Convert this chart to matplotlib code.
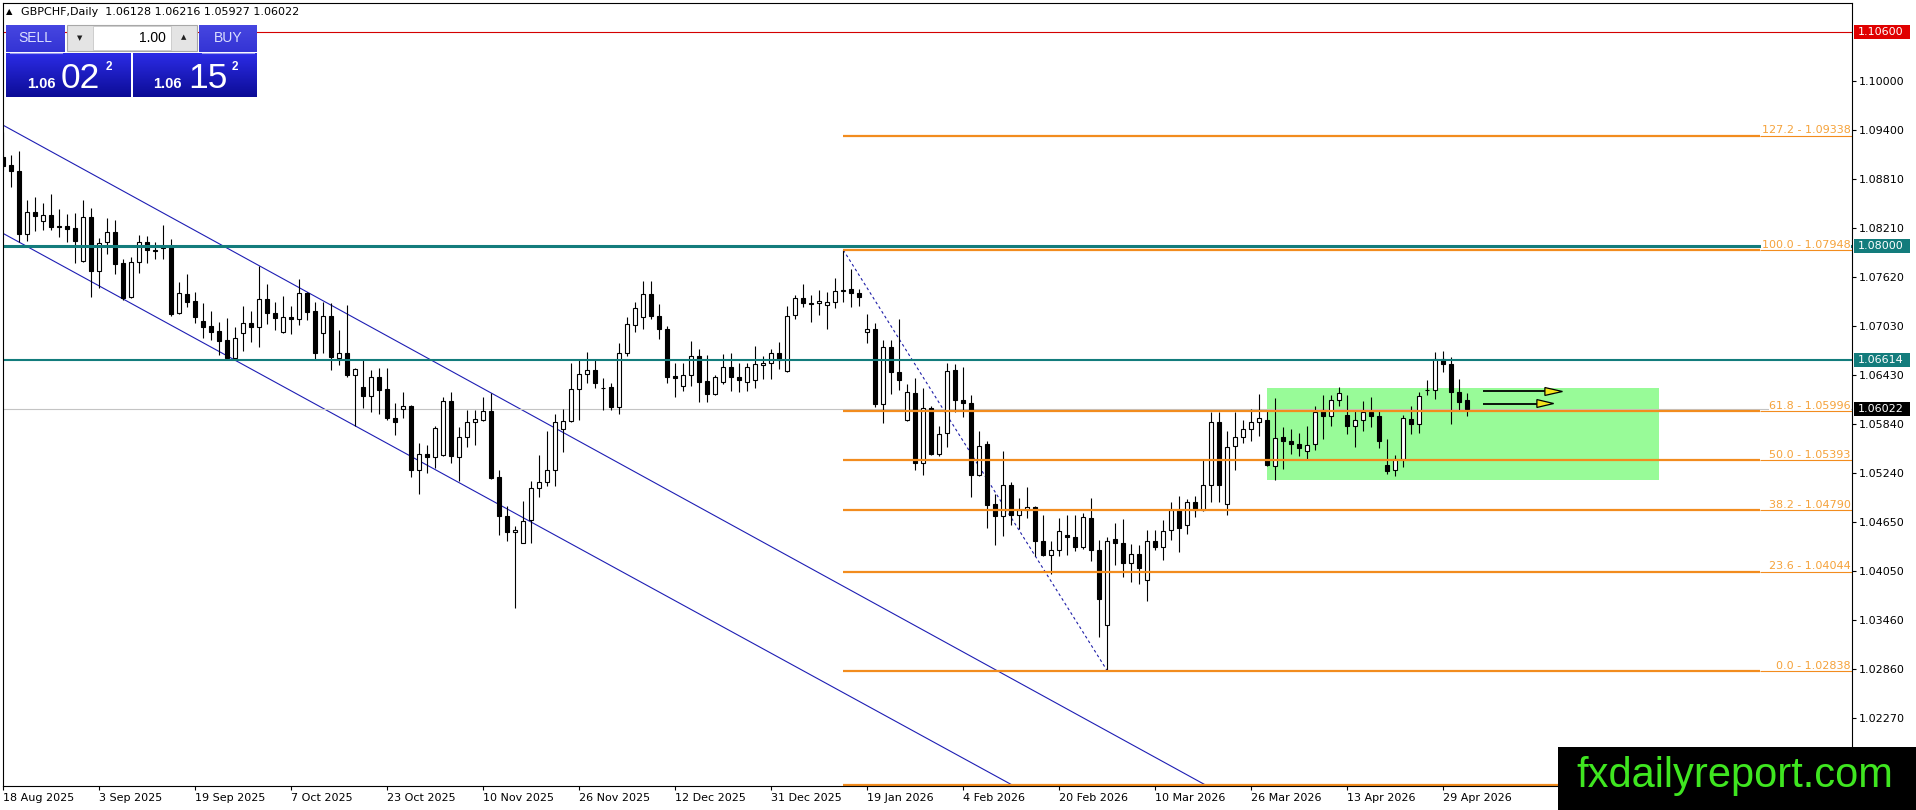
import matplotlib
matplotlib.use("Agg")
import matplotlib.pyplot as plt
from matplotlib.patches import Rectangle, Polygon
import numpy as np

plt.rcParams['font.family'] = ['DejaVu Sans']

W, H = 1916, 810

# ---------------- data (GBPCHF daily) ----------------
OPEN = [1.09074, 1.08981, 1.08908, 1.08143, 1.08406, 1.08297, 1.08370, 1.08240, 1.08240, 1.08216,
        1.07816, 1.08354, 1.07698, 1.08042, 1.08164, 1.07787, 1.07375, 1.07808, 1.08050, 1.07949,
        1.07998, 1.08002, 1.07181, 1.07415, 1.07326, 1.07088, 1.07027, 1.06966, 1.06857, 1.06635,
        1.06946, 1.07059, 1.07019, 1.07355, 1.07181, 1.06950, 1.07132, 1.07108, 1.07431, 1.07209,
        1.06946, 1.07148, 1.06635, 1.06703, 1.06432, 1.06283, 1.06178, 1.06412, 1.06258, 1.05906,
        1.06016, 1.06048, 1.05271, 1.05470, 1.05433, 1.05453, 1.06117, 1.05433, 1.05676, 1.05858,
        1.05878, 1.05995, 1.05190, 1.04721, 1.04519, 1.04390, 1.04665, 1.05057, 1.05130, 1.05279,
        1.05773, 1.05866, 1.06258, 1.06440, 1.06493, 1.06271, 1.06279, 1.06036, 1.06695, 1.07039,
        1.07132, 1.07415, 1.07148, 1.06990, 1.06420, 1.06291, 1.06432, 1.06663, 1.06359, 1.06198,
        1.06343, 1.06525, 1.06404, 1.06343, 1.06372, 1.06550, 1.06574, 1.06695, 1.06473, 1.07160,
        1.07363, 1.07302, 1.07302, 1.07282, 1.07314, 1.07456, 1.07472, 1.07431, 1.06954, 1.06987,
        1.06080, 1.06768, 1.06465, 1.05886, 1.06210, 1.05360, 1.06028, 1.05470, 1.05724, 1.06485,
        1.06121, 1.06089, 1.05211, 1.05591, 1.04863, 1.04713, 1.05089, 1.04725, 1.04786, 1.04827,
        1.04410, 1.04248, 1.04309, 1.04483, 1.04462, 1.04337, 1.04693, 1.04309, 1.03391, 1.04438,
        1.04390, 1.04147, 1.04256, 1.03937, 1.04410, 1.04341, 1.04551, 1.04786, 1.04604, 1.04887,
        1.04794, 1.05098, 1.05854, 1.04863, 1.05563, 1.05676, 1.05773, 1.05858, 1.05878, 1.05328,
        1.05676, 1.05623, 1.05591, 1.05502, 1.05595, 1.06008, 1.05935, 1.06121, 1.05947, 1.05805,
        1.05886, 1.05987, 1.05935, 1.05340, 1.05271, 1.05409, 1.05898, 1.05834, 1.06246, 1.06250,
        1.06622, 1.06562, 1.06222, 1.06128]
HIGH = [1.09385, 1.09102, 1.09151, 1.08556, 1.08588, 1.08516, 1.08625, 1.08443, 1.08382, 1.08394,
        1.08556, 1.08455, 1.08099, 1.08334, 1.08313, 1.07836, 1.07868, 1.08131, 1.08119, 1.08050,
        1.08253, 1.08079, 1.07557, 1.07658, 1.07444, 1.07310, 1.07209, 1.07071, 1.07120, 1.07011,
        1.07270, 1.07213, 1.07755, 1.07533, 1.07314, 1.07391, 1.07262, 1.07593, 1.07444, 1.07322,
        1.07314, 1.07302, 1.06978, 1.07282, 1.06510, 1.06614, 1.06493, 1.06521, 1.06521, 1.06089,
        1.06222, 1.06068, 1.05603, 1.05583, 1.05817, 1.06169, 1.06222, 1.05793, 1.06007, 1.06007,
        1.06161, 1.06210, 1.05279, 1.04835, 1.04592, 1.04895, 1.05146, 1.05461, 1.05745, 1.05959,
        1.06020, 1.06574, 1.06626, 1.06715, 1.06626, 1.06392, 1.06339, 1.06817, 1.07132, 1.07322,
        1.07577, 1.07577, 1.07294, 1.07027, 1.06574, 1.06574, 1.06845, 1.06748, 1.06675, 1.06432,
        1.06687, 1.06695, 1.06574, 1.06574, 1.06784, 1.06655, 1.06748, 1.06837, 1.07274, 1.07403,
        1.07537, 1.07403, 1.07464, 1.07444, 1.07605, 1.07948, 1.07715, 1.07472, 1.07173, 1.07059,
        1.06857, 1.06857, 1.07112, 1.06319, 1.06392, 1.06271, 1.06048, 1.05805, 1.06574, 1.06562,
        1.06533, 1.06190, 1.05753, 1.05623, 1.04984, 1.05510, 1.05130, 1.04936, 1.05069, 1.04843,
        1.04725, 1.04410, 1.04693, 1.04725, 1.04725, 1.04754, 1.04936, 1.04430, 1.04462, 1.04632,
        1.04685, 1.04377, 1.04369, 1.04551, 1.04543, 1.04665, 1.04887, 1.04956, 1.04924, 1.04956,
        1.05409, 1.05975, 1.05975, 1.05753, 1.05975, 1.05886, 1.06016, 1.06198, 1.06008, 1.06157,
        1.05797, 1.05773, 1.05724, 1.05813, 1.06048, 1.06190, 1.06190, 1.06279, 1.06190, 1.05995,
        1.06109, 1.06161, 1.05995, 1.05656, 1.05462, 1.05947, 1.06056, 1.06218, 1.06372, 1.06707,
        1.06724, 1.06647, 1.06384, 1.06216]
LOW = [1.08920, 1.08718, 1.08050, 1.08063, 1.08184, 1.08192, 1.08192, 1.08111, 1.08050, 1.07787,
       1.07808, 1.07383, 1.07484, 1.07901, 1.07658, 1.07342, 1.07371, 1.07666, 1.07787, 1.07836,
       1.07840, 1.07152, 1.07173, 1.07254, 1.07059, 1.06877, 1.06857, 1.06675, 1.06614, 1.06614,
       1.06716, 1.06829, 1.06776, 1.07047, 1.06978, 1.06946, 1.06930, 1.07039, 1.07092, 1.06614,
       1.06695, 1.06493, 1.06554, 1.06412, 1.05805, 1.06028, 1.05987, 1.05959, 1.05886, 1.05704,
       1.05906, 1.05191, 1.04984, 1.05239, 1.05300, 1.05449, 1.05360, 1.05138, 1.05550, 1.05575,
       1.05870, 1.05166, 1.04483, 1.04410, 1.03601, 1.04385, 1.04390, 1.04948, 1.05077, 1.05077,
       1.05490, 1.05862, 1.05886, 1.06331, 1.06271, 1.06007, 1.06007, 1.05955, 1.06667, 1.06958,
       1.06986, 1.07112, 1.06865, 1.06331, 1.06169, 1.06242, 1.06291, 1.06097, 1.06097, 1.06190,
       1.06323, 1.06242, 1.06218, 1.06242, 1.06271, 1.06380, 1.06380, 1.06501, 1.06465, 1.07112,
       1.07261, 1.07071, 1.07160, 1.06990, 1.07241, 1.07322, 1.07253, 1.07262, 1.06817, 1.06040,
       1.05846, 1.06202, 1.06250, 1.05866, 1.05280, 1.05211, 1.05461, 1.05441, 1.05555, 1.05987,
       1.05919, 1.04944, 1.05199, 1.04572, 1.04361, 1.04471, 1.04612, 1.04564, 1.04693, 1.04228,
       1.04236, 1.04018, 1.04228, 1.04248, 1.04288, 1.04321, 1.04167, 1.03249, 1.02838, 1.04127,
       1.03977, 1.03912, 1.03896, 1.03682, 1.04301, 1.04179, 1.04430, 1.04276, 1.04503, 1.04701,
       1.04774, 1.04887, 1.04887, 1.04725, 1.05280, 1.05603, 1.05631, 1.05692, 1.05320, 1.05158,
       1.05292, 1.05470, 1.05449, 1.05405, 1.05514, 1.05656, 1.05813, 1.06048, 1.05716, 1.05550,
       1.05745, 1.05797, 1.05542, 1.05227, 1.05199, 1.05308, 1.05716, 1.05724, 1.06190, 1.06141,
       1.06465, 1.05834, 1.05999, 1.05927]
CLOSE = [1.08969, 1.08908, 1.08143, 1.08406, 1.08366, 1.08370, 1.08224, 1.08224, 1.08208, 1.08063,
         1.08354, 1.07698, 1.08038, 1.08164, 1.07775, 1.07363, 1.07808, 1.08050, 1.07949, 1.07941,
         1.07978, 1.07173, 1.07423, 1.07322, 1.07140, 1.07019, 1.06958, 1.06849, 1.06635, 1.06877,
         1.07059, 1.07019, 1.07351, 1.07181, 1.07128, 1.07132, 1.07108, 1.07423, 1.07201, 1.06695,
         1.07148, 1.06647, 1.06703, 1.06432, 1.06501, 1.06178, 1.06412, 1.06250, 1.05906, 1.05854,
         1.06048, 1.05271, 1.05470, 1.05433, 1.05785, 1.06117, 1.05441, 1.05676, 1.05858, 1.05894,
         1.05995, 1.05178, 1.04713, 1.04519, 1.04543, 1.04661, 1.05057, 1.05130, 1.05279, 1.05858,
         1.05866, 1.06258, 1.06440, 1.06493, 1.06339, 1.06267, 1.06036, 1.06695, 1.07047, 1.07241,
         1.07415, 1.07152, 1.06986, 1.06412, 1.06392, 1.06432, 1.06667, 1.06351, 1.06198, 1.06404,
         1.06525, 1.06404, 1.06364, 1.06533, 1.06562, 1.06574, 1.06695, 1.06614, 1.07148, 1.07363,
         1.07302, 1.07298, 1.07334, 1.07314, 1.07456, 1.07464, 1.07423, 1.07383, 1.06987, 1.06080,
         1.06768, 1.06461, 1.06372, 1.06218, 1.05360, 1.06028, 1.05470, 1.05712, 1.06473, 1.06121,
         1.06089, 1.05211, 1.05563, 1.04855, 1.04713, 1.05089, 1.04725, 1.04786, 1.04827, 1.04410,
         1.04248, 1.04301, 1.04531, 1.04458, 1.04337, 1.04701, 1.04309, 1.03710, 1.04418, 1.04390,
         1.04147, 1.04256, 1.04086, 1.04410, 1.04337, 1.04539, 1.04786, 1.04572, 1.04887, 1.04794,
         1.05098, 1.05854, 1.05098, 1.05551, 1.05672, 1.05777, 1.05854, 1.05906, 1.05332, 1.05664,
         1.05631, 1.05591, 1.05542, 1.05575, 1.05987, 1.05927, 1.06129, 1.06210, 1.05805, 1.05886,
         1.05987, 1.05927, 1.05623, 1.05267, 1.05409, 1.05906, 1.05834, 1.06177, 1.06250, 1.06622,
         1.06562, 1.06222, 1.06101, 1.06022]

DATE_LABELS = ["18 Aug 2025", "3 Sep 2025", "19 Sep 2025", "7 Oct 2025", "23 Oct 2025",
               "10 Nov 2025", "26 Nov 2025", "12 Dec 2025", "31 Dec 2025", "19 Jan 2026",
               "4 Feb 2026", "20 Feb 2026", "10 Mar 2026", "26 Mar 2026", "13 Apr 2026",
               "29 Apr 2026"]
DATE_BARS = [0, 12, 24, 36, 48, 60, 72, 84, 96, 108, 120, 132, 144, 156, 168, 180]

PRICE_TICKS = [1.10000, 1.09400, 1.08810, 1.08210, 1.07620, 1.07030, 1.06430,
               1.05840, 1.05240, 1.04650, 1.04050, 1.03460, 1.02860, 1.02270]

# fibonacci retracement (anchored high bar 105 -> low bar 138)
FIB_START_BAR = 105
FIB_LEVELS = [127.2, 100.0, 61.8, 50.0, 38.2, 23.6, 0.0, -27.2]
FIB_PRICES = [1.09338, 1.07948, 1.05996, 1.05393, 1.04790, 1.04044, 1.02838, 1.01448]
FIB_LABELLED = [True, True, True, True, True, True, True, False]  # -27.2 label hidden by logo
FIB_LINE = [(105, 1.07948), (138, 1.02838)]

# horizontal levels
RED_LEVEL = 1.10600
TEAL_LEVELS = [1.08000, 1.06614]
BID = 1.06022

# descending channel anchors (bar, price)
CHANNEL_UPPER = [(0, 1.09462), (150, 1.01467)]
CHANNEL_LOWER = [(0, 1.08148), (125, 1.01511)]

# consolidation box (bar from, bar to, price low, price high)
BOX = (158, 207, 1.05150, 1.06275)
# arrows: (start bar, head start bar, tip bar, price)
ARROWS = [(185, 192.7, 194.9, 1.06230), (185, 191.7, 193.8, 1.06084)]

TITLE = "GBPCHF,Daily  1.06128 1.06216 1.05927 1.06022"

# ---------------- figure ----------------
fig = plt.figure(figsize=(W / 100, H / 100), dpi=100)
fig.patch.set_facecolor('white')
L, T, R, B = 3, 3, 1852, 786
ax = fig.add_axes([L / W, 1 - B / H, (R - L) / W, (B - T) / H])
ax.set_facecolor('white')
ax.set_xlim(-0.04, 231.09)
ax.set_ylim(1.01440, 1.10947)

N = len(OPEN)
x = np.arange(N)
o = np.array(OPEN); h = np.array(HIGH); lo = np.array(LOW); c = np.array(CLOSE)
up = c >= o
bottom = np.minimum(o, c)
height = np.maximum(np.abs(c - o), 0.00002)

# green zone
bx0, bx1, by0, by1 = BOX
ax.add_patch(Rectangle((bx0, by0), bx1 - bx0, by1 - by0, facecolor='#98FB98',
                       edgecolor='none', zorder=1))

# channel + dotted swing line
for p1, p2 in (CHANNEL_UPPER, CHANNEL_LOWER):
    ax.axline(p1, p2, color='#1E1EB4', lw=0.8, zorder=2)
ax.plot([FIB_LINE[0][0], FIB_LINE[1][0]], [FIB_LINE[0][1], FIB_LINE[1][1]],
        color='#1E1EA8', lw=0.8, ls=(0, (2.5, 2.5)), zorder=2)

# candles
ax.vlines(x, lo, h, color='black', lw=0.8, zorder=3)
ax.bar(x, height, bottom=bottom, width=0.5,
       color=np.where(up, 'white', 'black'), edgecolor='black', linewidth=0.8, zorder=4)

# horizontal lines
ax.axhline(RED_LEVEL, color='#D40000', lw=0.8, zorder=5)
ax.axhline(TEAL_LEVELS[0], color='#137C7C', lw=2.2, zorder=5)
ax.axhline(TEAL_LEVELS[1], color='#137C7C', lw=1.5, zorder=5)
ax.axhline(BID, color='#C4C4C4', lw=0.8, zorder=2)

# fibonacci levels
xr = ax.get_xlim()[1]
label_start = 219.6
FIB_COL = '#F28C1E'
ax.hlines(FIB_PRICES, FIB_START_BAR, label_start, color=FIB_COL, lw=1.6, zorder=5)
for lvl, p, show in zip(FIB_LEVELS, FIB_PRICES, FIB_LABELLED):
    if show:
        ax.text(xr - 0.15, p + 0.00003, f"{lvl:.1f} - {p:.5f}", ha='right', va='bottom',
                color='#F5A23A', fontsize=8, zorder=6,
                bbox=dict(boxstyle='square,pad=0.05', facecolor='white', edgecolor='none'))
ax.hlines(FIB_PRICES, label_start, xr, color=FIB_COL, lw=0.8, zorder=7)

# arrows
dh = 0.00048
for xs, xh, xt, p in ARROWS:
    ax.plot([xs, xh], [p, p], color='black', lw=1.3, zorder=6, solid_capstyle='butt')
    ax.add_patch(Polygon([(xh, p + dh), (xh, p - dh), (xt, p)], closed=True,
                         facecolor='#F4E41C', edgecolor='black', lw=0.9, zorder=7))

# axes styling
for s in ax.spines.values():
    s.set_color('black'); s.set_linewidth(0.8); s.set_zorder(8)
ax.yaxis.tick_right()
ax.set_yticks(PRICE_TICKS)
ax.set_yticklabels([f"{v:.5f}" for v in PRICE_TICKS])
ax.tick_params(axis='y', length=3, width=0.8, pad=2, labelsize=8, colors='black')
ax.set_xticks(DATE_BARS)
ax.set_xticklabels(DATE_LABELS, ha='left')
ax.tick_params(axis='x', length=3, width=0.8, pad=2, labelsize=8, colors='black')

# ---------------- overlay (pixel coords) ----------------
ov = fig.add_axes([0, 0, 1, 1], zorder=10)
ov.set_xlim(0, W); ov.set_ylim(H, 0)
ov.axis('off'); ov.patch.set_alpha(0)

def py(price):
    return H - ax.transData.transform((0, price))[1]

# right price boxes
for p, col in ((RED_LEVEL, '#E00000'), (TEAL_LEVELS[0], '#137C7C'),
               (TEAL_LEVELS[1], '#137C7C'), (BID, '#000000')):
    yy = py(p)
    ov.add_patch(Rectangle((1854, yy - 7), 56, 14, facecolor=col, edgecolor='none'))
    ov.text(1858, yy + 0.5, f"{p:.5f}", color='white', fontsize=8, va='center', ha='left')

# title
ov.text(6, 12, "\u25B2", fontsize=6, va='center', ha='left', color='black')
ov.text(21, 12, TITLE, fontsize=8, va='center', ha='left', color='black')

# trade panel
def grad_box(x0, y0, x1, y1, top, bot):
    t = np.linspace(0, 1, 64)[:, None]
    top = np.array(top) / 255.0; bot = np.array(bot) / 255.0
    img = (top[None, None, :] * (1 - t[..., None]) + bot[None, None, :] * t[..., None])
    img = np.repeat(img, 2, axis=1)
    ov.imshow(img, extent=(x0, x1, y1, y0), origin='upper', aspect='auto',
              interpolation='bilinear', zorder=1)

grad_box(6, 25, 65, 52, (70, 70, 225), (52, 52, 212))
grad_box(199, 25, 257, 52, (70, 70, 225), (52, 52, 212))
grad_box(6, 53, 131, 97, (44, 44, 230), (12, 12, 150))
grad_box(133, 53, 257, 97, (44, 44, 230), (12, 12, 150))
ov.plot([10, 62], [52.5, 52.5], color='#9A9AF0', lw=0.8, zorder=2)
ov.plot([202, 254], [52.5, 52.5], color='#9A9AF0', lw=0.8, zorder=2)
ov.add_patch(Rectangle((67, 25), 130, 26, facecolor='#E4E4E4', edgecolor='#A8A8A8', lw=0.8, zorder=2))
ov.add_patch(Rectangle((93, 26), 78, 24, facecolor='white', edgecolor='#C8C8C8', lw=0.6, zorder=3))
ov.text(80, 38.5, "\u25BC", fontsize=5, ha='center', va='center', color='#202020', zorder=4)
ov.text(184, 37.5, "\u25B2", fontsize=5, ha='center', va='center', color='#202020', zorder=4)
fam = ['Liberation Sans', 'DejaVu Sans']
ov.text(166, 38, "1.00", fontsize=10, ha='right', va='center', color='black', zorder=4, family=fam)
ov.text(35.5, 38.5, "SELL", fontsize=10, ha='center', va='center', color='#DCE0FF', zorder=4, family=fam)
ov.text(228, 38.5, "BUY", fontsize=10, ha='center', va='center', color='#DCE0FF', zorder=4, family=fam)
for xs, xb, xsup, big in ((27, 61, 106, "02"), (153, 188, 232, "15")):
    ov.text(xs, 87.5, "1.06", fontsize=10.5, fontweight='bold', color='white',
            ha='left', va='baseline', family=fam, zorder=4)
    ov.text(xb, 88.5, big, fontsize=25.5, color='white', ha='left', va='baseline',
            family=fam, zorder=4)
    ov.text(xsup, 70.5, "2", fontsize=8.5, fontweight='bold', color='white',
            ha='left', va='baseline', family=fam, zorder=4)

# watermark
ov.add_patch(Rectangle((1558, 747), W - 1558, H - 747, facecolor='black', edgecolor='none', zorder=5))
ov.text(1576, 787, "fxdailyreport.com", fontsize=30, color='#3FE620', ha='left',
        va='baseline', family=fam, zorder=6)

fig.savefig('out.png', dpi=100, facecolor='white')
